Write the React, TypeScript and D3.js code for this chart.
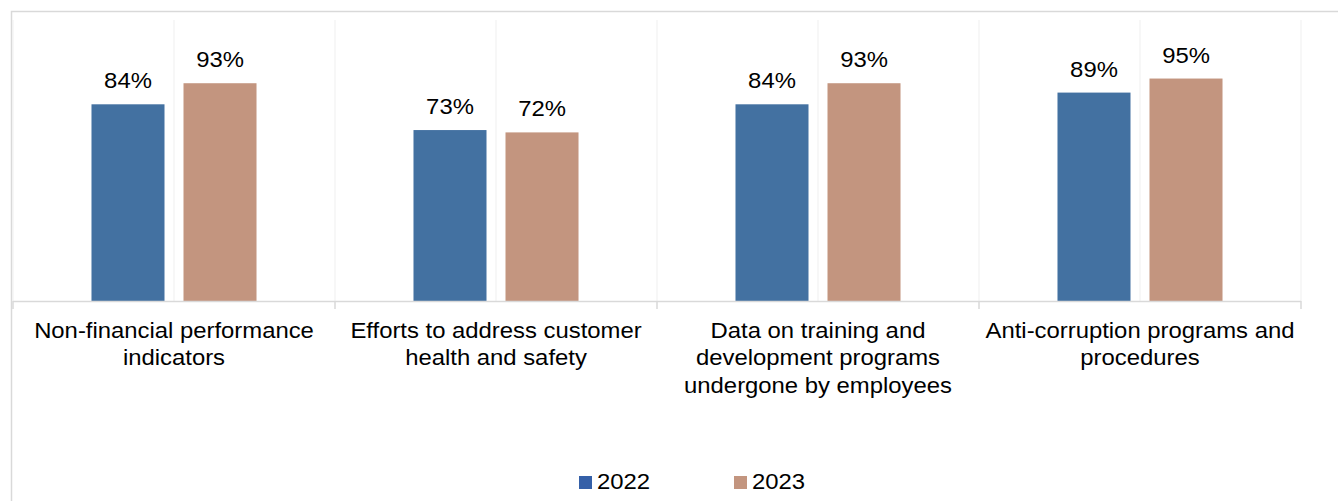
import React, { useEffect, useRef } from 'react';
import * as d3 from 'd3';

// chart data
const categories = [
  'Non-financial performance indicators',
  'Efforts to address customer health and safety',
  'Data on training and development programs undergone by employees',
  'Anti-corruption programs and procedures',
];
const categoryLines = [
  ['Non-financial performance', 'indicators'],
  ['Efforts to address customer', 'health and safety'],
  ['Data on training and', 'development programs', 'undergone by employees'],
  ['Anti-corruption programs and', 'procedures'],
];
const seriesNames = ['2022', '2023'];
const values2022 = [84, 73, 84, 89];
const values2023 = [93, 72, 93, 95];

const barColors = ['#4371a1', '#c3957f'];
const legendColors = ['#3560a8', '#c3957f'];
const FONT = 'Arial, "Liberation Sans", sans-serif';
const SX = 1.085; // reference text is a bit wider than plain Arial

const App = () => {
  const svgRef = useRef<SVGSVGElement | null>(null);

  useEffect(() => {
    const width = 1338;
    const height = 501;
    const left = 13;
    const right = 1301;
    const top = 20;
    const baseline = 301;

    const svg = d3.select(svgRef.current)
      .attr('width', width)
      .attr('height', height);
    svg.selectAll('*').remove();

    // outer chart border (cut off at right and bottom in the reference)
    svg.append('rect')
      .attr('x', 11.5)
      .attr('y', 11.5)
      .attr('width', width + 20)
      .attr('height', height + 20)
      .attr('fill', 'white')
      .attr('stroke', '#d9d9d9')
      .attr('stroke-width', 1.5);

    const x0 = d3.scaleBand<string>()
      .domain(categories)
      .range([left, right]);

    const x1 = d3.scaleBand<string>()
      .domain(seriesNames)
      .range([0, x0.bandwidth()])
      .paddingInner(0.2065)
      .paddingOuter(0.853);

    const y = d3.scaleLinear()
      .domain([0, 120])
      .range([baseline, top]);

    // vertical gridlines at half-category steps
    const gridX = d3.range(categories.length * 2 + 1)
      .map(i => left + (i * x0.bandwidth()) / 2);
    svg.append('g')
      .selectAll('line')
      .data(gridX)
      .enter()
      .append('line')
      .attr('x1', d => d)
      .attr('x2', d => d)
      .attr('y1', top)
      .attr('y2', baseline)
      .attr('stroke', '#efefef')
      .attr('stroke-width', 1);

    const rows = categories.map((c, i) => ({
      category: c,
      items: [
        { key: seriesNames[0], value: values2022[i] },
        { key: seriesNames[1], value: values2023[i] },
      ],
    }));

    const groups = svg.append('g')
      .selectAll('g')
      .data(rows)
      .enter()
      .append('g')
      .attr('transform', d => `translate(${x0(d.category)},0)`);

    groups.selectAll('rect')
      .data(d => d.items)
      .enter()
      .append('rect')
      .attr('x', d => x1(d.key)!)
      .attr('y', d => y(d.value))
      .attr('width', x1.bandwidth())
      .attr('height', d => baseline - y(d.value))
      .style('fill', (d, i) => barColors[i]);

    groups.selectAll('text')
      .data(d => d.items)
      .enter()
      .append('text')
      .attr('transform', d => `translate(${x1(d.key)! + x1.bandwidth() / 2},${y(d.value) - 16}) scale(${SX},1)`)
      .attr('text-anchor', 'middle')
      .style('font-family', FONT)
      .style('font-size', '22px')
      .style('fill', '#000')
      .text(d => `${d.value}%`);

    // category axis
    svg.append('line')
      .attr('x1', left)
      .attr('x2', right)
      .attr('y1', baseline + 0.5)
      .attr('y2', baseline + 0.5)
      .attr('stroke', '#d9d9d9')
      .attr('stroke-width', 1.5);

    const tickX = d3.range(categories.length + 1).map(i => left + i * x0.bandwidth());
    svg.append('g')
      .selectAll('line')
      .data(tickX)
      .enter()
      .append('line')
      .attr('x1', d => d)
      .attr('x2', d => d)
      .attr('y1', baseline)
      .attr('y2', baseline + 8)
      .attr('stroke', '#d9d9d9')
      .attr('stroke-width', 1.5);

    const labels = svg.append('g')
      .selectAll('text')
      .data(categories)
      .enter()
      .append('text')
      .attr('transform', d => `translate(${x0(d)! + x0.bandwidth() / 2},0) scale(${SX},1)`)
      .attr('text-anchor', 'middle')
      .style('font-family', FONT)
      .style('font-size', '22px')
      .style('fill', '#000');

    labels.selectAll('tspan')
      .data((d, i) => categoryLines[i])
      .enter()
      .append('tspan')
      .attr('x', 0)
      .attr('y', (d, j) => 338 + j * 27.5)
      .text(d => d);

    // legend
    const legendX = [579, 734];
    const legend = svg.append('g')
      .selectAll('g')
      .data(seriesNames)
      .enter()
      .append('g')
      .attr('transform', (d, i) => `translate(${legendX[i]},476)`);

    legend.append('rect')
      .attr('width', 13)
      .attr('height', 13)
      .style('fill', (d, i) => legendColors[i]);

    legend.append('text')
      .attr('transform', `translate(18,13) scale(${SX},1)`)
      .style('font-family', FONT)
      .style('font-size', '22px')
      .style('fill', '#000')
      .text(d => d);
  }, []);

  return (
    <svg ref={svgRef} style={{ position: 'absolute', left: 0, top: 0 }}></svg>
  );
};

export default App;
